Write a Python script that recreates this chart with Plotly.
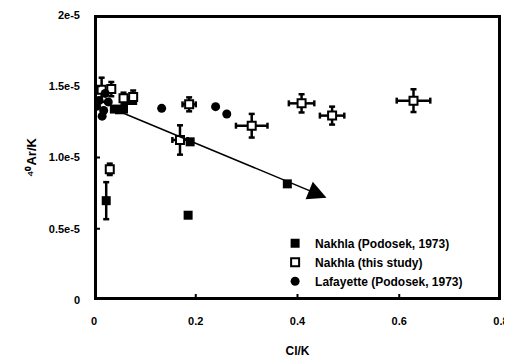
import plotly.graph_objects as go

# Nakhla (Podosek, 1973) - filled squares
nak_pod_x = [0.024, 0.185, 0.189, 0.380, 0.040, 0.050, 0.058, 0.068, 0.076]
nak_pod_y = [6.97e-6, 5.95e-6, 11.1e-6, 8.15e-6, 13.4e-6, 13.35e-6, 13.4e-6, 14.0e-6, 14.0e-6]
nak_pod_ey = [1.3e-6, 0, 0, 0, 0, 0, 0, 0, 0]

# Nakhla (this study) - open squares with x and y errors
nak_ts_x = [0.015, 0.034, 0.058, 0.077, 0.031, 0.169, 0.187, 0.310, 0.408, 0.468, 0.628]
nak_ts_y = [14.75e-6, 14.8e-6, 14.15e-6, 14.25e-6, 9.17e-6, 11.23e-6, 13.73e-6, 12.23e-6, 13.8e-6, 12.94e-6, 13.99e-6]
nak_ts_ex = [0.004, 0.004, 0.004, 0.004, 0.003, 0.015, 0.013, 0.031, 0.025, 0.024, 0.033]
nak_ts_ey = [0.85e-6, 0.5e-6, 0.4e-6, 0.45e-6, 0.4e-6, 1.03e-6, 0.49e-6, 0.83e-6, 0.64e-6, 0.63e-6, 0.8e-6]

# Lafayette (Podosek, 1973) - filled circles
laf_x = [0.005, 0.010, 0.016, 0.019, 0.022, 0.028, 0.133, 0.239, 0.261]
laf_y = [13.6e-6, 14.0e-6, 12.9e-6, 13.3e-6, 14.5e-6, 13.9e-6, 13.45e-6, 13.57e-6, 13.05e-6]

# Arrow (tail -> head) in data units
arrow_tail = (0.048, 13.25e-6)
arrow_head = (0.457, 7.18e-6)

x_tickvals = [0, 0.2, 0.4, 0.6, 0.8]
x_ticktext = ["0", "0.2", "0.4", "0.6", "0.8"]
x_minor = [i * 0.05 for i in range(17)]
y_tickvals = [0, 0.5e-5, 1.0e-5, 1.5e-5, 2.0e-5]
y_ticktext = ["0", "0.5e-5", "1.0e-5", "1.5e-5", "2e-5"]
y_minor = [i * 1e-6 for i in range(21)]

X_RANGE = [0, 0.8]
Y_RANGE = [0, 2e-5]

FONT = "Liberation Sans, Arial, sans-serif"
W, H = 504, 352
M = dict(l=86, r=11, t=7, b=60)
PW = W - M["l"] - M["r"]
PH = H - M["t"] - M["b"]
PX_X = (X_RANGE[1] - X_RANGE[0]) / PW   # data units per pixel
PX_Y = (Y_RANGE[1] - Y_RANGE[0]) / PH
CAP_PX = 3


def b(s):
    return "<b>" + s + "</b>"


def error_segments(xs, ys, exs, eys):
    """Error bar polylines (with caps) built from the data arrays."""
    sx, sy = [], []
    cx, cy = CAP_PX * PX_X, CAP_PX * PX_Y
    for i in range(len(xs)):
        x, y = xs[i], ys[i]
        ey = eys[i] if eys else 0
        ex = exs[i] if exs else 0
        if ey:
            sx += [x, x, None, x - cx, x + cx, None, x - cx, x + cx, None]
            sy += [y - ey, y + ey, None, y - ey, y - ey, None, y + ey, y + ey, None]
        if ex:
            sx += [x - ex, x + ex, None, x - ex, x - ex, None, x + ex, x + ex, None]
            sy += [y, y, None, y - cy, y + cy, None, y - cy, y + cy, None]
    return sx, sy


fig = go.Figure()

# error bars (beneath markers)
for ex_arr, ey_arr, xs, ys in [(None, nak_pod_ey, nak_pod_x, nak_pod_y),
                               (nak_ts_ex, nak_ts_ey, nak_ts_x, nak_ts_y)]:
    sx, sy = error_segments(xs, ys, ex_arr, ey_arr)
    fig.add_trace(go.Scatter(x=sx, y=sy, mode="lines", line=dict(color="black", width=2.5),
                             showlegend=False, hoverinfo="skip"))

fig.add_trace(go.Scatter(
    x=nak_pod_x, y=nak_pod_y, mode="markers", name=b("Nakhla (Podosek, 1973)"),
    marker=dict(symbol="square", size=9, color="black"),
))
fig.add_trace(go.Scatter(
    x=nak_ts_x, y=nak_ts_y, mode="markers", name=b("Nakhla (this study)"),
    marker=dict(symbol="square", size=8, color="white", line=dict(color="black", width=2)),
))
fig.add_trace(go.Scatter(
    x=laf_x, y=laf_y, mode="markers", name=b("Lafayette (Podosek, 1973)"),
    marker=dict(symbol="circle", size=9, color="black"),
))

# inward tick marks on bottom and left axes (major 6 px, minor 3 px)
tx, ty = [], []
for v in x_minor:
    ln = 6 if any(abs(v - t) < 1e-9 for t in x_tickvals) else 3
    tx += [v, v, None]
    ty += [Y_RANGE[0], Y_RANGE[0] + ln * PX_Y, None]
for v in y_minor:
    ln = 6 if any(abs(v - t) < 1e-12 for t in y_tickvals) else 3
    tx += [X_RANGE[0], X_RANGE[0] + ln * PX_X, None]
    ty += [v, v, None]
fig.add_trace(go.Scatter(x=tx, y=ty, mode="lines", line=dict(color="black", width=2),
                         showlegend=False, hoverinfo="skip"))

# plot frame (drawn along the axis ranges; half of the stroke lies inside the plot area)
fig.add_trace(go.Scatter(
    x=[X_RANGE[0], X_RANGE[1], X_RANGE[1], X_RANGE[0], X_RANGE[0]],
    y=[Y_RANGE[0], Y_RANGE[0], Y_RANGE[1], Y_RANGE[1], Y_RANGE[0]],
    mode="lines", line=dict(color="black", width=6), showlegend=False, hoverinfo="skip",
))

fig.add_annotation(
    x=arrow_head[0], y=arrow_head[1], ax=arrow_tail[0], ay=arrow_tail[1],
    xref="x", yref="y", axref="x", ayref="y", text="", showarrow=True,
    arrowhead=2, arrowsize=2.5, arrowwidth=1.5, arrowcolor="black",
)

fig.update_xaxes(
    range=X_RANGE, tickvals=x_tickvals, ticktext=[b(t) for t in x_ticktext],
    showline=False, showgrid=False, zeroline=False, ticks="",
    tickfont=dict(family=FONT, size=11, color="black", weight="bold"),
    title=dict(text=b("Cl/K"), font=dict(family=FONT, size=12, color="black", weight="bold"), standoff=20),
    ticklabelstandoff=13, automargin=False,
)
fig.update_yaxes(
    range=Y_RANGE, tickvals=y_tickvals, ticktext=[b(t) for t in y_ticktext],
    showline=False, showgrid=False, zeroline=False, ticks="",
    tickfont=dict(family=FONT, size=11, color="black", weight="bold"),
    title=dict(text=b("⁴⁰Ar/K"), font=dict(family=FONT, size=13, color="black", weight="bold"), standoff=9),
    ticklabelstandoff=13, automargin=False,
)

fig.update_layout(
    width=W, height=H, margin=M,
    plot_bgcolor="white",
    font=dict(family=FONT, color="black", weight="bold"),
    showlegend=True,
    legend=dict(
        x=0.445, y=0.25, xanchor="left", yanchor="top",
        bgcolor="rgba(0,0,0,0)", borderwidth=0,
        font=dict(family=FONT, size=12, color="black", weight="bold"),
        itemwidth=30, tracegroupgap=0,
    ),
)

fig.write_html("out.html", config={"staticPlot": True})
